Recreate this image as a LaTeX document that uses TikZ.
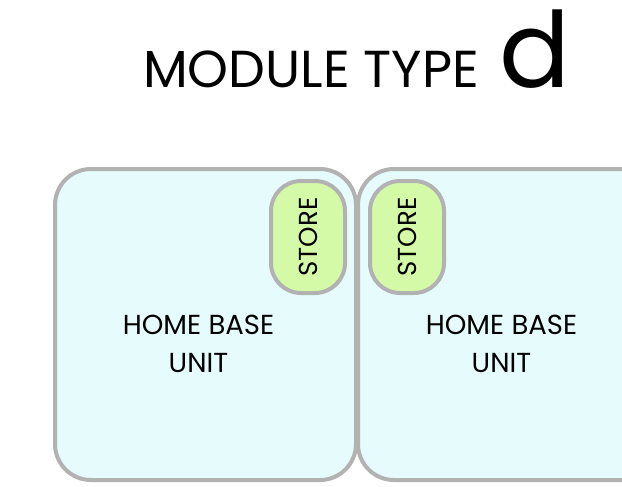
\documentclass[tikz,border=0pt]{standalone}
\usepackage{fontspec}
\setmainfont{Poppins}
\usepackage{tikz}
\usetikzlibrary{positioning,calc}

\definecolor{unitfill}{RGB}{230,252,252}
\definecolor{storefill}{RGB}{212,250,168}
\definecolor{edgegray}{RGB}{178,178,178}

\begin{document}
\begin{tikzpicture}[x=1pt, y=-1pt,
    unit/.style={draw=edgegray, fill=unitfill, line width=4pt, rounded corners=36pt,
        minimum width=301pt, minimum height=311pt, inner sep=0pt},
    store/.style={draw=edgegray, fill=storefill, line width=4pt, rounded corners=30pt,
        rotate=90, minimum width=112pt, minimum height=74pt, inner sep=0pt, font=\fontsize{26}{30}\selectfont},
    unitlabel/.style={align=center, font=\fontsize{27.5}{38}\selectfont}]
    \useasboundingbox (0,0) rectangle (622,487);
    \clip (0,0) rectangle (622,487);
    % title
    \node[anchor=base west, inner sep=0pt, font=\fontsize{52}{54}\selectfont] (title) at (143,87.5) {MODULE TYPE};
    \node[anchor=base west, inner sep=0pt, font=\fontsize{105}{105}\selectfont] (typeD) at ([xshift=20pt]title.base east) {d};
    % home base units
    \node[unit] (unitA) at (205.5,324.5) {};
    \node[unit] (unitB) at (508.5,324.5) {};
    \node[unitlabel] (homeA) at ($(unitA.center)+(-7,19.5)$) {HOME BASE\\UNIT};
    \node[unitlabel] (homeB) at ($(unitB.center)+(-7,19.5)$) {HOME BASE\\UNIT};
    % stores
    \node[store] (storeA) at (308,237) {STORE};
    \node[store] (storeB) at (407,237) {STORE};
\end{tikzpicture}
\end{document}
